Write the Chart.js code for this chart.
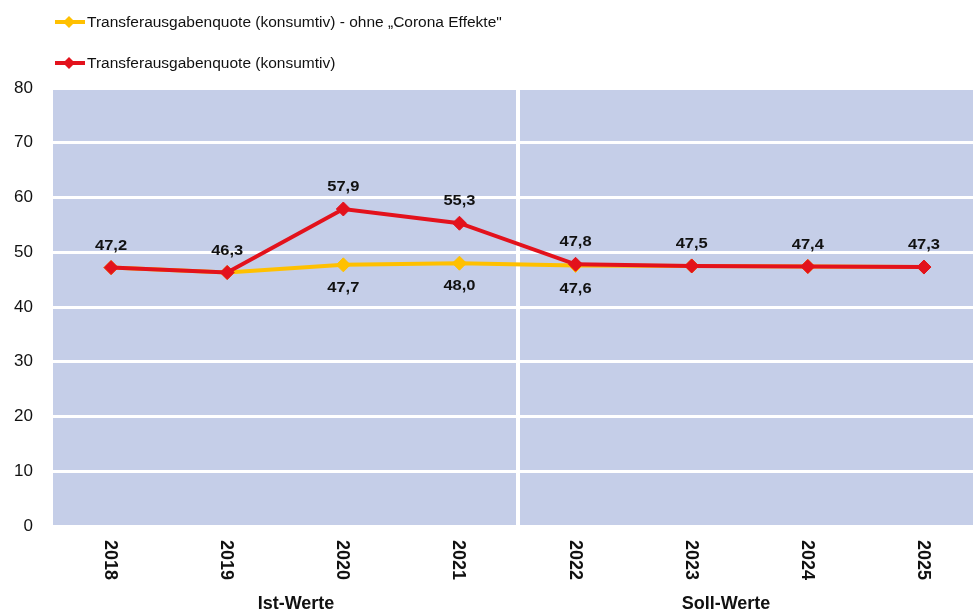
<!DOCTYPE html>
<html>
<head>
<meta charset="utf-8">
<script src="https://cdn.jsdelivr.net/npm/chart.js@4"></script>
<style>
  html, body { margin: 0; padding: 0; background: #fff; overflow: hidden; }
  /* plot runs past the right edge in the reference, so the canvas is a bit wider than the window */
  #wrap { width: 990px; height: 614px; }
</style>
</head>
<body>
<div id="wrap"><canvas id="chart"></canvas></div>
<script>
// data
const years = ['2018', '2019', '2020', '2021', '2022', '2023', '2024', '2025'];
const quoteOhneCorona = [47.2, 46.3, 47.7, 48.0, 47.6, 47.5, 47.4, 47.3];
const quoteKonsumtiv = [47.2, 46.3, 57.9, 55.3, 47.8, 47.5, 47.4, 47.3];
const yTicks = [0, 10, 20, 30, 40, 50, 60, 70, 80];
const groupLabels = [
    { text: 'Ist-Werte', x: 296 },
    { text: 'Soll-Werte', x: 726 }
];

const red = '#E3121C';
const yellow = '#FFC000';
const plotBg = '#C5CEE8';

function fmt(v) {
    return v.toFixed(1).replace('.', ',');
}

// plot background + custom legend, labels, rotated years
let decoPlugin = {
    id: 'deco',
    beforeDraw: function (chart) {
        let ctx = chart.ctx;
        let a = chart.chartArea;
        ctx.save();
        ctx.fillStyle = plotBg;
        ctx.fillRect(a.left, a.top, a.right - a.left, a.bottom - a.top);
        ctx.restore();
    },
    afterDraw: function (chart) {
        let ctx = chart.ctx;
        let xScale = chart.scales.x;
        ctx.save();

        // legend
        let legendY = [22, 63];
        chart.data.datasets.forEach((ds, i) => {
            let y = legendY[i];
            ctx.strokeStyle = ds.borderColor;
            ctx.lineWidth = 4;
            ctx.beginPath();
            ctx.moveTo(55, y);
            ctx.lineTo(85, y);
            ctx.stroke();
            ctx.fillStyle = ds.borderColor;
            ctx.beginPath();
            ctx.moveTo(69, y - 6);
            ctx.lineTo(75, y);
            ctx.lineTo(69, y + 6);
            ctx.lineTo(63, y);
            ctx.closePath();
            ctx.fill();
            ctx.fillStyle = '#111';
            ctx.font = '15.5px "Liberation Sans", Arial, sans-serif';
            ctx.textAlign = 'left';
            ctx.textBaseline = 'middle';
            ctx.fillText(ds.label, 87, y + 1);
        });

        // value labels
        let metaY = chart.getDatasetMeta(0);
        let metaR = chart.getDatasetMeta(1);
        ctx.font = 'bold 15px "Liberation Sans", Arial, sans-serif';
        ctx.fillStyle = '#111';
        ctx.textAlign = 'center';
        ctx.textBaseline = 'middle';
        for (let i = 0; i < years.length; i++) {
            let pr = metaR.data[i];
            ctx.save();
            ctx.translate(pr.x, pr.y - 22);
            ctx.scale(1.1, 1);
            ctx.fillText(fmt(quoteKonsumtiv[i]), 0, 0);
            ctx.restore();
            if (quoteOhneCorona[i] !== quoteKonsumtiv[i]) {
                let py = metaY.data[i];
                ctx.save();
                ctx.translate(py.x, py.y + 23);
                ctx.scale(1.1, 1);
                ctx.fillText(fmt(quoteOhneCorona[i]), 0, 0);
                ctx.restore();
            }
        }

        // rotated year labels (reading top to bottom)
        ctx.font = 'bold 18px "Liberation Sans", Arial, sans-serif';
        ctx.textAlign = 'left';
        ctx.textBaseline = 'middle';
        for (let i = 0; i < years.length; i++) {
            let x = xScale.getPixelForValue(i);
            ctx.save();
            ctx.translate(x - 1, 540);
            ctx.rotate(Math.PI / 2);
            ctx.fillText(years[i], 0, 0);
            ctx.restore();
        }

        // group labels
        ctx.textAlign = 'center';
        for (let g of groupLabels) {
            ctx.fillText(g.text, g.x, 604);
        }
        ctx.restore();
    }
};

let dataForChart = {
    labels: years,
    datasets: [
        {
            label: 'Transferausgabenquote (konsumtiv) - ohne \u201ECorona Effekte"',
            data: quoteOhneCorona,
            borderColor: yellow,
            backgroundColor: yellow,
            borderWidth: 4,
            pointStyle: 'rectRot',
            pointRadius: 7,
            pointBorderWidth: 1,
            tension: 0,
            order: 2
        },
        {
            label: 'Transferausgabenquote (konsumtiv)',
            data: quoteKonsumtiv,
            borderColor: red,
            backgroundColor: red,
            borderWidth: 4,
            pointStyle: 'rectRot',
            pointRadius: 7,
            pointBorderWidth: 1,
            tension: 0,
            order: 1
        }
    ]
};

let config = {
    type: 'line',
    data: dataForChart,
    options: {
        responsive: true,
        maintainAspectRatio: false,
        animation: false,
        layout: {
            padding: { top: 88, right: 0, bottom: 0, left: 2 }
        },
        plugins: {
            legend: { display: false },
            tooltip: { enabled: false }
        },
        scales: {
            x: {
                offset: true,
                grid: {
                    offset: true,
                    drawTicks: false,
                    lineWidth: 4,
                    color: (c) => c.index === 4 ? '#ffffff' : 'rgba(0,0,0,0)'
                },
                border: { display: false },
                ticks: { display: false },
                afterFit: (scale) => { scale.height = 88; }
            },
            y: {
                min: 0,
                max: 80,
                afterBuildTicks: (scale) => { scale.ticks = yTicks.map(v => ({ value: v })); },
                grid: {
                    drawTicks: false,
                    lineWidth: 3,
                    color: '#ffffff'
                },
                border: { display: false },
                ticks: {
                    padding: 20,
                    color: '#111',
                    font: { family: '"Liberation Sans", Arial, sans-serif', size: 17 }
                },
                afterFit: (scale) => { scale.width = 51; }
            }
        }
    },
    plugins: [decoPlugin]
};

let chart = new Chart(document.getElementById('chart').getContext('2d'), config);
</script>
</body>
</html>
